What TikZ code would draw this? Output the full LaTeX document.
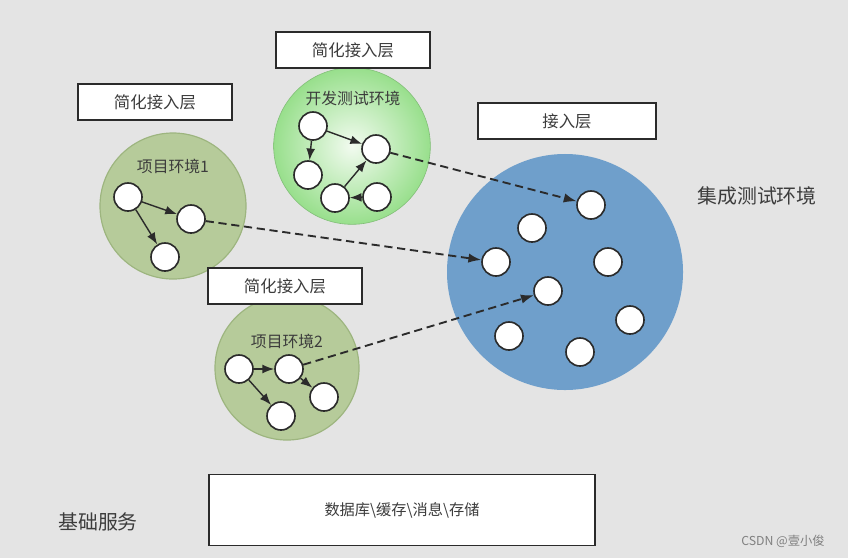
\documentclass[tikz,border=0pt]{standalone}
\usepackage{fontspec}
\setmainfont{Noto Sans CJK SC}
\usetikzlibrary{arrows.meta}

\definecolor{bgcol}{HTML}{E4E4E4}
\definecolor{olive}{HTML}{B6CB9A}
\definecolor{oliveline}{HTML}{9DB57F}
\definecolor{devgreen}{HTML}{98DF8C}
\definecolor{devlight}{HTML}{F2FBF0}
\definecolor{blueenv}{HTML}{6F9FCB}
\definecolor{txt}{HTML}{3C3C3C}
\definecolor{edge}{HTML}{2B2B2B}

\begin{document}
\begin{tikzpicture}[x=0.03cm,y=-0.03cm,
    layerbox/.style={draw=edge,line width=1.5pt,fill=white,text=txt,
      minimum width=4.6cm,minimum height=1.08cm,font=\fontsize{14}{16}\selectfont},
    envcircle/.style={circle,inner sep=0pt},
    member/.style={circle,draw=edge,line width=1.4pt,fill=white,
      minimum size=0.84cm,inner sep=0pt},
    envlabel/.style={text=txt,font=\fontsize{13.5}{15}\selectfont},
    link/.style={-{Latex[length=10pt,width=7.5pt]},edge,line width=1.2pt},
    feed/.style={-{Latex[length=11pt,width=8pt]},edge,line width=1.6pt,
      dash pattern=on 7pt off 4pt}]

  \fill[bgcol] (0,0) rectangle (848,558);
  \useasboundingbox (0,0) rectangle (848,558);

  % environments
  \node[envcircle,fill=olive,draw=oliveline,line width=1pt,minimum size=4.38cm]
      (env1) at (173,206) {};
  \node[envcircle,draw=devgreen!85!black,line width=0.5pt,
      inner color=devlight,outer color=devgreen,minimum size=4.7cm]
      (dev) at (352,146) {};
  \node[envcircle,fill=olive,draw=oliveline,line width=1pt,minimum size=4.32cm]
      (env2) at (287,368) {};
  \node[envcircle,fill=blueenv,minimum size=7.08cm] (ci) at (565,272) {};

  % layer boxes
  \node[layerbox] (gate1) at (155,102) {简化接入层};
  \node[layerbox] (gatedev) at (353,50) {简化接入层};
  \node[layerbox] (gate2) at (285,286) {简化接入层};
  \node[layerbox,minimum width=5.34cm] (gateci) at (567,121) {接入层};
  \node[layerbox,minimum width=11.58cm,minimum height=2.13cm,
      font=\fontsize{13}{15}\selectfont] (base) at (402,510) {数据库\textbackslash 缓存\textbackslash 消息\textbackslash 存储};

  \node[envlabel] (env1name) at (173,166) {项目环境1};
  \node[envlabel] (devname) at (353,98) {开发测试环境};
  \node[envlabel] (env2name) at (287,341) {项目环境2};
  \node[text=txt,font=\fontsize{17}{19}\selectfont] (ciname) at (757,196) {集成测试环境};
  \node[text=txt,font=\fontsize{17}{19}\selectfont] (basename) at (98,522) {基础服务};
  \node[text=gray,font=\fontsize{10.5}{12}\selectfont] (mark) at (783,541) {CSDN @壹小俊};

  % members of each environment
  \node[member] (a1) at (128,197) {};
  \node[member] (a2) at (191,219) {};
  \node[member] (a3) at (165,257) {};

  \node[member] (d1) at (313,126) {};
  \node[member] (d2) at (376,149) {};
  \node[member] (d3) at (308,175) {};
  \node[member] (d4) at (335,198) {};
  \node[member] (d5) at (377,197) {};

  \node[member] (e1) at (239,369) {};
  \node[member] (e2) at (289,369) {};
  \node[member] (e3) at (324,397) {};
  \node[member] (e4) at (281,416) {};

  \foreach \name/\pos in {f1/{(591,205)},f2/{(532,228)},f3/{(496,262)},
      f4/{(608,262)},f5/{(548,291)},f6/{(630,320)},f7/{(509,336)},f8/{(580,352)}}
    \node[member] (\name) at \pos {};

  % links inside environments
  \draw[link] (a1) -- (a2);
  \draw[link] (a1) -- (a3);
  \draw[link] (d1) -- (d2);
  \draw[link] (d1) -- (d3);
  \draw[link] (d4) -- (d2);
  \draw[link] (d5) -- (d4);
  \draw[link] (e1) -- (e2);
  \draw[link] (e1) -- (e4);
  \draw[link] (e2) -- (e3);

  % into integration environment
  \draw[feed] (d2) -- (f1);
  \draw[feed] (a2) -- (f3);
  \draw[feed] (e2) -- (f5);
\end{tikzpicture}
\end{document}
